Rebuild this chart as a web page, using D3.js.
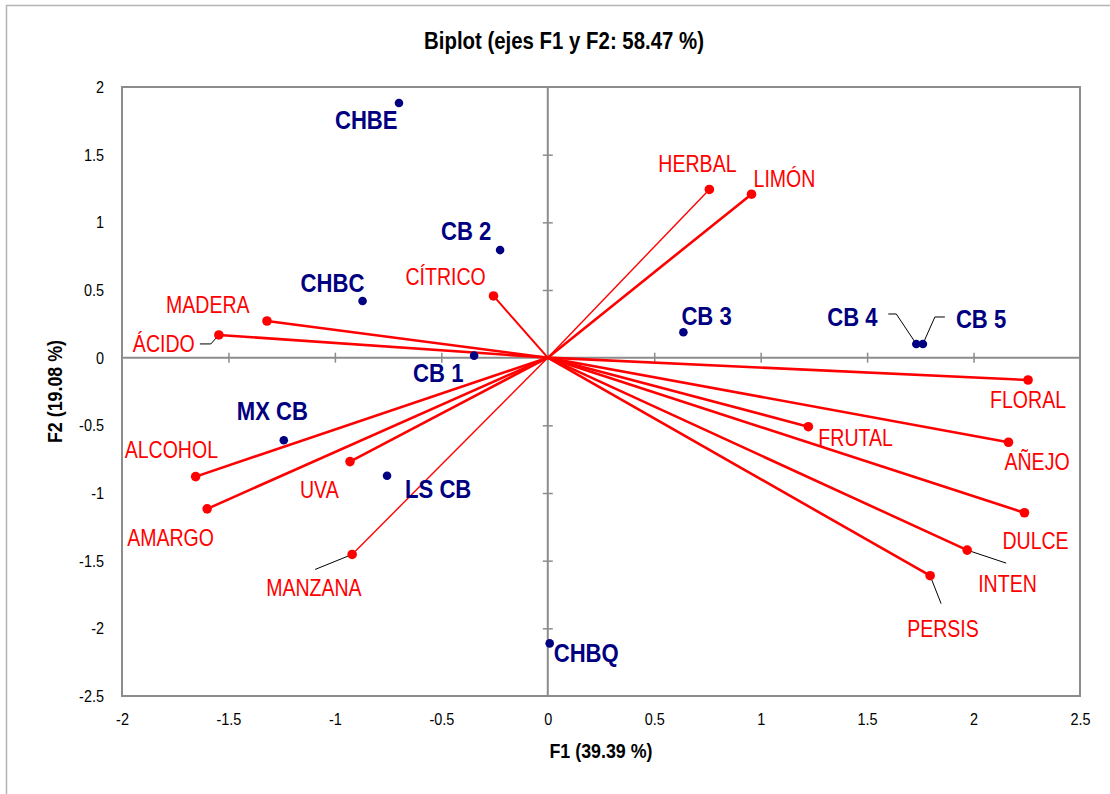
<!DOCTYPE html>
<html>
<head>
<meta charset="utf-8">
<script src="https://cdn.jsdelivr.net/npm/d3@7"></script>
<style>
  html, body { margin: 0; padding: 0; background: #fff; }
  svg { display: block; }
  text { font-family: "Liberation Sans", Arial, sans-serif; }
</style>
</head>
<body>
<svg id="chart" width="1110" height="794"></svg>
<script>
// Observations (F1, F2 scores)
const obsNames = ["CHBE", "CB 2", "CHBC", "CB 1", "CB 3", "CB 4", "CB 5", "MX CB", "LS CB", "CHBQ"];
const obsF1    = [-0.699, -0.224, -0.870, -0.346, 0.637, 1.731, 1.762, -1.240, -0.755, 0.009];
const obsF2    = [ 1.882,  0.795,  0.419,  0.015, 0.188, 0.101, 0.101, -0.610, -0.872, -2.111];

// Variables (F1, F2 loadings)
const varNames = ["HERBAL", "LIMÓN", "CÍTRICO", "MADERA", "ÁCIDO", "FLORAL", "FRUTAL", "AÑEJO",
                  "DULCE", "INTEN", "PERSIS", "ALCOHOL", "AMARGO", "UVA", "MANZANA"];
const varF1    = [0.759, 0.957, -0.255, -1.319, -1.545, 2.256, 1.224, 2.164,
                  2.239, 1.970, 1.796, -1.654, -1.600, -0.929, -0.919];
const varF2    = [1.243, 1.208, 0.456, 0.271, 0.168, -0.165, -0.510, -0.625,
                  -1.146, -1.422, -1.611, -0.879, -1.117, -0.768, -1.454];

// Axis ticks
const xTicks = [-2, -1.5, -1, -0.5, 0, 0.5, 1, 1.5, 2, 2.5];
const yTicks = [2, 1.5, 1, 0.5, 0, -0.5, -1, -1.5, -2, -2.5];

const svg = d3.select("#chart");
const W = 1110, H = 794;
const plot = { left: 122, right: 1080, top: 87, bottom: 696 };

const x = d3.scaleLinear().domain([-2, 2.5]).range([plot.left, plot.right]);
const y = d3.scaleLinear().domain([-2.5, 2]).range([plot.bottom, plot.top]);

const RED = "#ff0000", NAVY = "#000080", GRID = "#8c8c8c";
const SX = 0.85;               // horizontal condensing of all text
const fmt = d => String(d);
const at = (px, py, rot) => `translate(${px},${py})${rot ? ` rotate(${rot})` : ""} scale(${SX},1)`;

// Outer frame
svg.append("rect").attr("x", 6.5).attr("y", 5.5).attr("width", W + 10).attr("height", H + 10)
  .attr("fill", "none").attr("stroke", "#b4b4b4").attr("stroke-width", 1.5);

// Title
svg.append("text").attr("transform", at(564, 49)).attr("text-anchor", "middle")
  .attr("font-size", 24).attr("font-weight", "bold").attr("fill", "#000")
  .text("Biplot (ejes F1 y F2: 58.47 %)");

// Plot border
svg.append("rect").attr("x", plot.left).attr("y", plot.top)
  .attr("width", plot.right - plot.left).attr("height", plot.bottom - plot.top)
  .attr("fill", "none").attr("stroke", GRID).attr("stroke-width", 2);

// Zero axes with crossing ticks
const xZero = svg.append("g").attr("transform", `translate(0,${y(0)})`)
  .call(d3.axisBottom(x).tickValues(xTicks.filter(t => t > -2 && t < 2.5 && t !== 0))
    .tickSize(10).tickFormat(""));
xZero.selectAll(".tick line").attr("transform", "translate(0,-5)");
const yZero = svg.append("g").attr("transform", `translate(${x(0)},0)`)
  .call(d3.axisLeft(y).tickValues(yTicks.filter(t => t < 2 && t > -2.5 && t !== 0))
    .tickSize(10).tickFormat(""));
yZero.selectAll(".tick line").attr("transform", "translate(5,0)");
svg.selectAll(".domain").remove();
svg.append("line").attr("x1", plot.left).attr("x2", plot.right).attr("y1", y(0)).attr("y2", y(0))
  .attr("stroke", GRID).attr("stroke-width", 2);
svg.append("line").attr("x1", x(0)).attr("x2", x(0)).attr("y1", plot.top).attr("y2", plot.bottom)
  .attr("stroke", GRID).attr("stroke-width", 2);
svg.selectAll(".tick line").attr("stroke", GRID).attr("stroke-width", 1.5);

// Tick labels on the outer edges
const xLab = svg.append("g").attr("transform", `translate(0,${plot.bottom})`)
  .call(d3.axisBottom(x).tickValues(xTicks).tickSize(0).tickPadding(17).tickFormat(fmt));
const yLab = svg.append("g").attr("transform", `translate(${plot.left},0)`)
  .call(d3.axisLeft(y).tickValues(yTicks).tickSize(0).tickPadding(18 / SX).tickFormat(fmt));
[xLab, yLab].forEach(g => {
  g.select(".domain").remove();
  g.selectAll("text").attr("font-size", 17).attr("fill", "#000")
    .attr("transform", `scale(${SX},1)`)
    .style("font-family", "\"Liberation Sans\", Arial, sans-serif");
});

// Axis titles
svg.append("text").attr("transform", at((plot.left + plot.right) / 2, 758)).attr("text-anchor", "middle")
  .attr("font-size", 21).attr("font-weight", "bold").text("F1 (39.39 %)");
svg.append("text").attr("transform", `translate(62,${(plot.top + plot.bottom) / 2}) rotate(-90) scale(${SX},1)`)
  .attr("text-anchor", "middle").attr("font-size", 21).attr("font-weight", "bold").text("F2 (19.08 %)");

// Variable vectors
const vars = varNames.map((n, i) => ({ name: n, f1: varF1[i], f2: varF2[i] }));
const thin = new Set(["HERBAL", "MANZANA"]);
const medium = new Set(["CÍTRICO"]);
svg.append("g").selectAll("line").data(vars).join("line")
  .attr("x1", x(0)).attr("y1", y(0))
  .attr("x2", d => x(d.f1)).attr("y2", d => y(d.f2))
  .attr("stroke", RED)
  .attr("stroke-width", d => thin.has(d.name) ? 1.4 : medium.has(d.name) ? 2 : 2.6);

// Observations
const obs = obsNames.map((n, i) => ({ name: n, f1: obsF1[i], f2: obsF2[i] }));

// Label offsets (dx, dy from the point to the text start, baseline)
const varLabel = {
  "HERBAL":  { dx: -51, dy: -17 },
  "LIMÓN":   { dx: 2,   dy: -7 },
  "CÍTRICO": { dx: -88, dy: -11 },
  "MADERA":  { dx: -101,dy: -8 },
  "ÁCIDO":   { dx: -86, dy: 17 },
  "FLORAL":  { dx: -38, dy: 28 },
  "FRUTAL":  { dx: 10,  dy: 19 },
  "AÑEJO":   { dx: -4,  dy: 28 },
  "DULCE":   { dx: -22, dy: 36 },
  "INTEN":   { dx: 11,  dy: 42 },
  "PERSIS":  { dx: -23, dy: 61 },
  "ALCOHOL": { dx: -71, dy: -19 },
  "AMARGO":  { dx: -80, dy: 37 },
  "UVA":     { dx: -50, dy: 36 },
  "MANZANA": { dx: -86, dy: 42 }
};
const obsLabel = {
  "CHBE":  { dx: -64, dy: 26 },
  "CB 2":  { dx: -59, dy: -10 },
  "CHBC":  { dx: -62, dy: -9 },
  "CB 1":  { dx: -61, dy: 26 },
  "CB 3":  { dx: -2,  dy: -7 },
  "CB 4":  { dx: -89, dy: -18 },
  "CB 5":  { dx: 33,  dy: -16 },
  "MX CB": { dx: -47, dy: -20 },
  "LS CB": { dx: 18,  dy: 22 },
  "CHBQ":  { dx: 4,   dy: 19 }
};

// Leader lines for labels placed away from their points
const leaders = [
  { pt: () => [x(varF1[4]), y(varF2[4])], path: p => [[p[0] - 19, p[1] + 9], [p[0] - 8, p[1] + 9], p] },
  { pt: () => [x(varF1[9]), y(varF2[9])], path: p => [p, [p[0] + 39, p[1] + 13]] },
  { pt: () => [x(varF1[10]), y(varF2[10])], path: p => [p, [p[0] + 11, p[1] + 28]] },
  { pt: () => [x(varF1[14]), y(varF2[14])], path: p => [p, [p[0] - 37, p[1] + 15]] },
  { pt: () => [x(obsF1[5]), y(obsF2[5])], path: p => [p, [p[0] - 20, p[1] - 30], [p[0] - 28, p[1] - 30]] },
  { pt: () => [x(obsF1[6]), y(obsF2[6])], path: p => [p, [p[0] + 12, p[1] - 27], [p[0] + 22, p[1] - 27]] }
];
svg.append("g").selectAll("path").data(leaders).join("path")
  .attr("d", d => d3.line()(d.path(d.pt())))
  .attr("fill", "none").attr("stroke", "#000").attr("stroke-width", 1);

// Variable end points and labels
svg.append("g").selectAll("circle").data(vars).join("circle")
  .attr("cx", d => x(d.f1)).attr("cy", d => y(d.f2)).attr("r", 4.8).attr("fill", RED);
svg.append("g").selectAll("text").data(vars).join("text")
  .attr("transform", d => at(x(d.f1) + varLabel[d.name].dx, y(d.f2) + varLabel[d.name].dy))
  .attr("font-size", 23).attr("fill", RED).text(d => d.name);

// Observation points and labels
svg.append("g").selectAll("circle").data(obs).join("circle")
  .attr("cx", d => x(d.f1)).attr("cy", d => y(d.f2)).attr("r", 4.3).attr("fill", NAVY);
svg.append("g").selectAll("text").data(obs).join("text")
  .attr("transform", d => at(x(d.f1) + obsLabel[d.name].dx, y(d.f2) + obsLabel[d.name].dy))
  .attr("font-size", 26).attr("font-weight", "bold").attr("fill", NAVY).text(d => d.name);
</script>
</body>
</html>
